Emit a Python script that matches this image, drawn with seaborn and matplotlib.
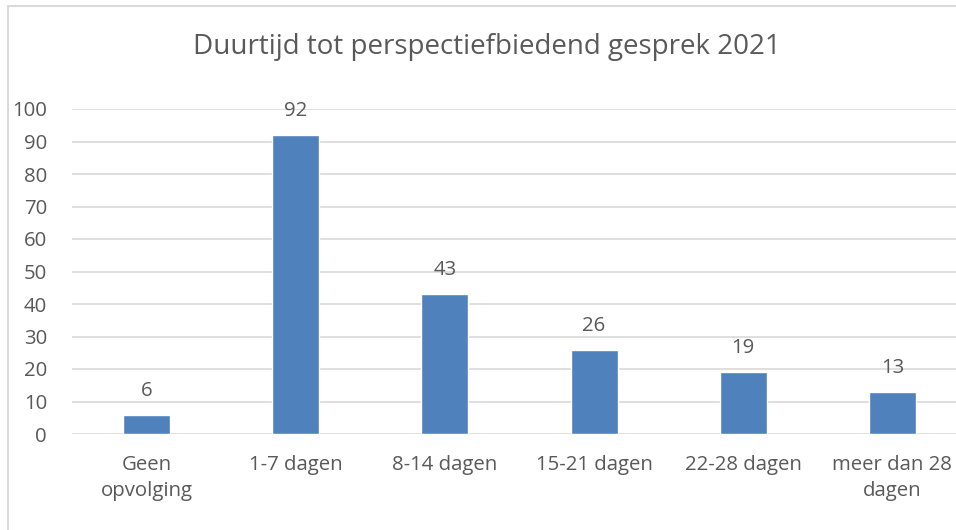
import matplotlib
matplotlib.use("Agg")
import matplotlib.pyplot as plt
import seaborn as sns
from matplotlib.patches import Rectangle

categories = ["Geen\nopvolging", "1-7 dagen", "8-14 dagen", "15-21 dagen", "22-28 dagen", "meer dan 28\ndagen"]
values = [6, 92, 43, 26, 19, 13]
title = "Duurtijd tot perspectiefbiedend gesprek 2021"

sns.set_style("white")
plt.rcParams["font.family"] = ["Open Sans", "DejaVu Sans"]

TEXT = "#595959"
BAR = "#4F81BD"
GRID = "#D9D9D9"

W, H = 956, 530
fig = plt.figure(figsize=(W / 100, H / 100), dpi=100)

# axes placed in pixel terms; right side runs past the figure (cropped chart)
left, right, top, bottom = 72, 967, 109, 434
ax = fig.add_axes([left / W, 1 - bottom / H, (right - left) / W, (bottom - top) / H])

sns.barplot(x=categories, y=values, color=BAR, width=0.315, saturation=1, ax=ax)

ax.set_ylim(0, 100)
ax.set_xlim(-0.5, 5.5)
ax.set_yticks(range(0, 101, 10))
ax.yaxis.grid(True, color=GRID, linewidth=1.2)
ax.set_axisbelow(True)
for s in ax.spines.values():
    s.set_visible(False)
ax.tick_params(axis="both", length=0, labelsize=14.7, labelcolor=TEXT)
ax.tick_params(axis="y", pad=18)
ax.tick_params(axis="x", pad=15)
for lbl in ax.get_xticklabels():
    lbl.set_linespacing(1.42)
ax.set_xlabel("")
ax.set_ylabel("")

ax.bar_label(ax.containers[0], padding=10, fontsize=14.7, color=TEXT)

fig.text(487 / W, 1 - 47 / H, title, ha="center", va="center", fontsize=20, color=TEXT)

# chart border (only left and top edges visible in the crop)
fig.patches.append(Rectangle((8 / W, -0.1), 1.2, 1.1 - 6 / H, transform=fig.transFigure,
                             fill=False, edgecolor=GRID, linewidth=1.5, clip_on=False))

fig.savefig("out.png", dpi=100)
